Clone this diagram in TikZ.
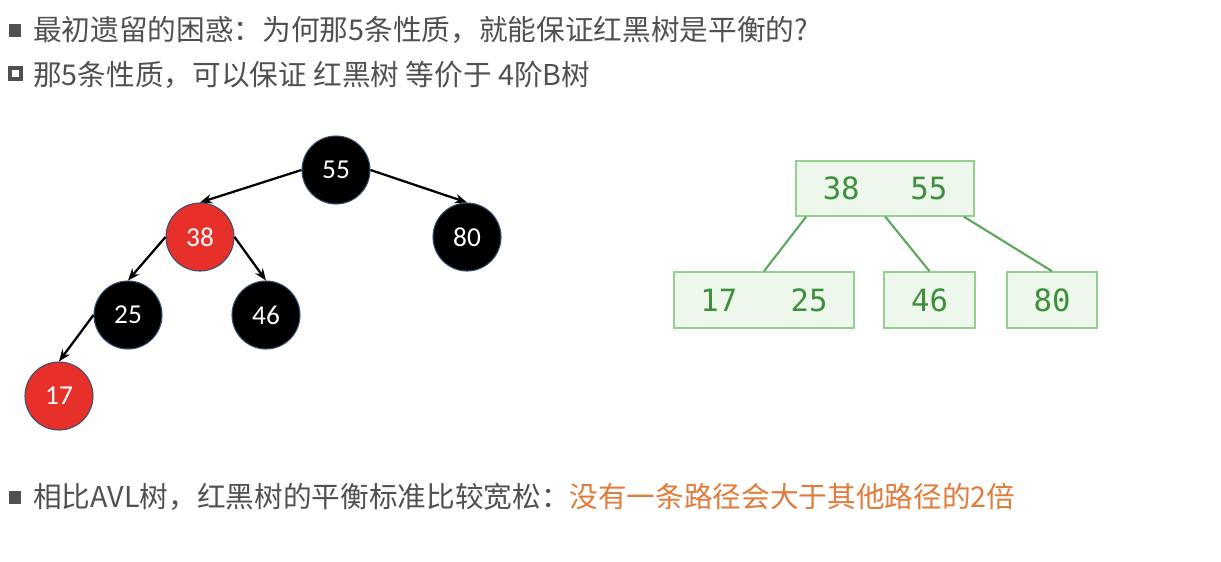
\documentclass[tikz,border=0pt]{standalone}
\usepackage{fontspec}
\setmainfont{Noto Sans CJK SC}
\newfontfamily\numfont{Carlito}
\newfontfamily\monofont{DejaVu Sans Mono}
\usetikzlibrary{arrows.meta}
\definecolor{txtgray}{HTML}{505050}
\definecolor{orangetxt}{HTML}{E07B39}
\definecolor{rbred}{HTML}{E8302A}
\definecolor{rbborder}{HTML}{3A5070}
\definecolor{bgreen}{HTML}{3E8E3E}
\definecolor{bfill}{HTML}{EDF7EB}
\definecolor{bborder}{HTML}{93CF8E}
\definecolor{bline}{HTML}{5EA85E}
\tikzset{
  line/.style={anchor=west,inner sep=0pt,text=txtgray,font=\fontsize{21.5pt}{24pt}\selectfont},
  rbnode/.style={circle,draw=rbborder,line width=0.8pt,minimum size=51pt,inner sep=0pt,text=white,font=\numfont\fontsize{20.5pt}{22pt}\selectfont},
  blacknode/.style={rbnode,fill=black},
  rednode/.style={rbnode,fill=rbred},
  rbedge/.style={line width=1.7pt,-{Stealth[length=9pt,width=7pt]}},
  bbox/.style={draw=bborder,fill=bfill,line width=1.2pt,inner sep=0pt,text=bgreen,font=\monofont\fontsize{23pt}{26pt}\selectfont},
  bedge/.style={draw=bline,line width=1.6pt},
}
\begin{document}
\begin{tikzpicture}[x=0.75pt,y=-0.75pt]
\useasboundingbox (0,0) rectangle (1221,561);
% bullets and text lines
\fill[txtgray] (9,24) rectangle (21,37);
\node[line] (t1) at (33,30) {最初遗留的困惑：为何那5条性质，就能保证红黑树是平衡的?};
\draw[txtgray,line width=3pt] (10,68) rectangle (21,79);
\node[line] (t2) at (33,75) {那5条性质，可以保证 红黑树 等价于 4阶B树};
\fill[txtgray] (9,491) rectangle (21,504);
\node[line] (t3) at (33,497) {相比AVL树，红黑树的平衡标准比较宽松：\textcolor{orangetxt}{没有一条路径会大于其他路径的2倍}};
% red-black tree
\node[blacknode] (n55) at (336,170) {55};
\node[rednode]   (n38) at (200,237) {38};
\node[blacknode] (n80) at (467,237) {80};
\node[blacknode] (n25) at (128,315) {25};
\node[blacknode] (n46) at (266,315) {46};
\node[rednode]   (n17) at (59,396) {17};
\draw[rbedge] (n55.west) -- (n38.north);
\draw[rbedge] (n55.east) -- (n80.north);
\draw[rbedge] (n38.west) -- (n25.north);
\draw[rbedge] (n38.east) -- (n46.north);
\draw[rbedge] (n25.west) -- (n17.north);
% B-tree
\node[bbox,minimum width=133.5pt,minimum height=41pt] (b1) at (885,188.5) {38\hspace{38pt}55};
\node[bbox,minimum width=135pt,minimum height=42pt] (b2) at (764,300) {17\hspace{40pt}25};
\node[bbox,minimum width=68pt,minimum height=42pt] (b3) at (929.5,300) {46};
\node[bbox,minimum width=67.5pt,minimum height=42pt] (b4) at (1052,300) {80};
\draw[bedge] ([xshift=8.25pt]b1.south west) -- (b2.north);
\draw[bedge] ([xshift=67.5pt]b1.south west) -- (b3.north);
\draw[bedge] ([xshift=-8.25pt]b1.south east) -- (b4.north);
\end{tikzpicture}
\end{document}
